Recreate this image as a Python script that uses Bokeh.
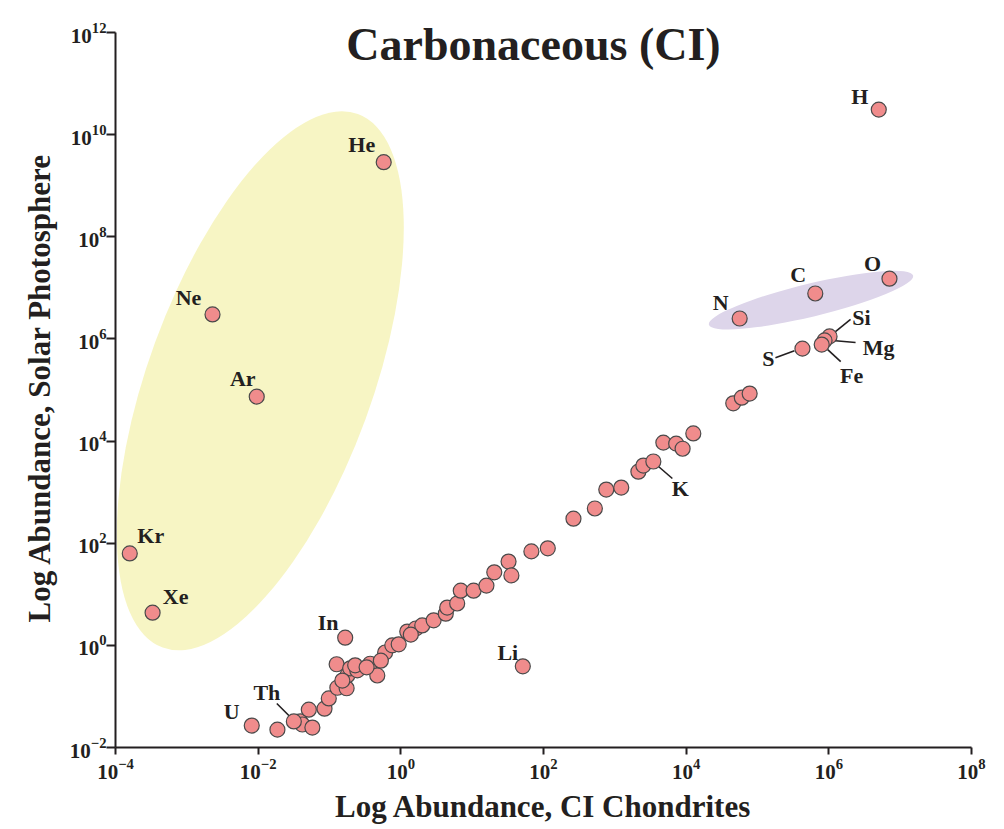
from bokeh.plotting import figure
from bokeh.models import Range1d, FixedTicker, Label, LogTickFormatter, Title
from bokeh.core.properties import value
from bokeh.embed import file_html
from bokeh.resources import INLINE

# ---- data (log10 abundances) ----
elements = ["H", "He", "Ne", "Ar", "Kr", "Xe", "In", "Li", "U", "Th",
            "N", "C", "O", "Si", "Mg", "Fe", "S", "K"]
el_log_ci = [6.70, -0.24, -2.64, -2.02, -3.80, -3.48, -0.78, 1.71, -2.09, -1.50,
             4.75, 5.81, 6.85, 6.01, 5.94, 5.90, 5.63, 3.54]
el_log_solar = [10.49, 9.46, 6.48, 4.87, 1.80, 0.64, 0.15, -0.41, -1.57, -1.49,
                6.40, 6.89, 7.18, 6.05, 5.97, 5.89, 5.81, 3.60]

trend_log_ci = [-1.73, -1.41, -1.38, -1.24, -1.29, -1.07, -1.01, -0.89, -0.76, -0.90,
                -0.75, -0.71, -0.61, -0.43, -0.33, -0.22, -0.12, -0.03, 0.09, 0.21,
                0.30, 0.46, 0.63, 0.65, 0.79, 0.84, 1.02, 1.20, 1.31, 1.51,
                1.55, 1.83, 2.06, 2.42, 2.72, 2.88, 3.09, 3.33, 3.40, 3.68,
                3.86, 3.95, 4.10, 4.66, 4.78, 4.89, -0.64, -0.48, -0.28, 0.14, -0.82]
trend_log_solar = [-1.65, -1.49, -1.55, -1.61, -1.26, -1.24, -1.04, -0.83, -0.84, -0.37,
                   -0.59, -0.45, -0.49, -0.36, -0.59, -0.14, 0.00, 0.02, 0.27, 0.33,
                   0.39, 0.49, 0.62, 0.74, 0.82, 1.07, 1.07, 1.17, 1.43, 1.64,
                   1.37, 1.84, 1.90, 2.48, 2.68, 3.05, 3.09, 3.40, 3.52, 3.97,
                   3.95, 3.85, 4.15, 4.74, 4.85, 4.93, -0.39, -0.43, -0.30, 0.21, -0.69]

x_tick_exps = [-4, -2, 0, 2, 4, 6, 8]
y_tick_exps = [-2, 0, 2, 4, 6, 8, 10, 12]

title_text = "Carbonaceous (CI)"
x_title = "Log Abundance, CI Chondrites"
y_title = "Log Abundance, Solar Photosphere"

# ---- styles / layout ----
FONT = "Liberation Serif"
INK = "#231f20"
W, H = 1000, 828
ML, MR, MB = 115, 29, 81
AXIS_TOP = 32                      # pixel row of the top y tick (frame runs above it)
FW, FH = W - ML - MR, H - MB
PPD_X = FW / (x_tick_exps[-1] - x_tick_exps[0])
PPD_Y = (FH - AXIS_TOP) / (y_tick_exps[-1] - y_tick_exps[0])
Y_END = y_tick_exps[-1] + AXIS_TOP / PPD_Y

# label offsets in screen pixels (dx right, dy down) relative to the point
label_off = {"H": (-19, -13), "He": (-22, -18), "Ne": (-24, -17), "Ar": (-14, -18),
             "Kr": (21, -18), "Xe": (23, -16), "In": (-17, -15), "Li": (-15, -14),
             "U": (-20, -14), "Th": (-27, -29), "N": (-19, -16), "C": (-17, -19),
             "O": (-17, -15), "Si": (32, -19), "Mg": (54, 7), "Fe": (30, 31),
             "S": (-34, 10), "K": (27, 27)}
leader_off = {"Th": (-17, -18, -4, -5), "Si": (5, -4, 21, -17), "Mg": (8, 0, 31, 2),
              "Fe": (6, 5, 19, 17), "S": (-8, 2, -27, 9), "K": (4, 4, 19, 17)}


def shift(lx, ly, dx, dy):
    return 10 ** (lx + dx / PPD_X), 10 ** (ly - dy / PPD_Y)


p = figure(width=W, height=H, x_axis_type="log", y_axis_type="log",
           x_range=Range1d(10.0 ** x_tick_exps[0], 10.0 ** x_tick_exps[-1]),
           y_range=Range1d(10.0 ** y_tick_exps[0], 10.0 ** Y_END),
           output_backend="svg", toolbar_location=None,
           x_axis_label=x_title,
           min_border_left=ML, min_border_right=MR, min_border_top=0, min_border_bottom=MB)
p.background_fill_color = "white"
p.border_fill_color = "white"
p.outline_line_color = None
p.grid.visible = False

for ax, exps, tick_out in ((p.xaxis, x_tick_exps, 7), (p.yaxis, y_tick_exps, 9)):
    ax.ticker = FixedTicker(ticks=[10.0 ** e for e in exps])
    ax.formatter = LogTickFormatter()
    ax.bounds = (10.0 ** exps[0], 10.0 ** exps[-1])
    ax.axis_line_width = 2
    ax.axis_line_color = INK
    ax.major_tick_line_width = 2
    ax.major_tick_line_color = INK
    ax.major_tick_in = 0
    ax.major_tick_out = tick_out
    ax.minor_tick_line_color = None
    ax.major_label_text_font = FONT
    ax.major_label_text_font_style = "bold"
    ax.major_label_text_font_size = "21px"
    ax.major_label_text_color = INK
    ax.axis_label_text_font = FONT
    ax.axis_label_text_font_style = "bold"
    ax.axis_label_text_font_size = "31px"
    ax.axis_label_text_color = INK
p.xaxis.major_label_standoff = 4
p.xaxis.axis_label_standoff = 7
p.yaxis.major_label_standoff = 0

# y axis title as a side title, started a fixed distance above the frame bottom
p.add_layout(Title(text=y_title, align="left", offset=125, standoff=19,
                   text_font=FONT, text_font_style="bold", text_font_size="31px",
                   text_color=INK), "left")

# ellipses (screen-sized, centred in data space)
p.ellipse(x=[10 ** -1.97], y=[10 ** 5.18], width=568, height=224, angle=1.22,
          width_units="screen", height_units="screen",
          fill_color="#F7F5C4", line_color=None)
p.ellipse(x=[10 ** 5.75], y=[10 ** 6.76], width=210, height=33, angle=0.236,
          width_units="screen", height_units="screen",
          fill_color="#DDD5EA", line_color=None)

# leader lines
x0s, y0s, x1s, y1s = [], [], [], []
for name, (a, b, c, d) in leader_off.items():
    i = elements.index(name)
    xa, ya = shift(el_log_ci[i], el_log_solar[i], a, b)
    xb, yb = shift(el_log_ci[i], el_log_solar[i], c, d)
    x0s.append(xa); y0s.append(ya); x1s.append(xb); y1s.append(yb)
p.segment(x0=x0s, y0=y0s, x1=x1s, y1=y1s, line_color=INK, line_width=1.6)

# points
all_x = [10 ** v for v in trend_log_ci] + [10 ** v for v in el_log_ci]
all_y = [10 ** v for v in trend_log_solar] + [10 ** v for v in el_log_solar]
p.scatter(x=all_x, y=all_y, size=15, fill_color="#F08C8C", line_color="#4a4a4a",
          line_width=1.2)

# element labels
lab_x, lab_y = [], []
for i, name in enumerate(elements):
    dx, dy = label_off[name]
    lx, ly = shift(el_log_ci[i], el_log_solar[i], dx, dy)
    lab_x.append(lx); lab_y.append(ly)
p.text(x=lab_x, y=lab_y, text=elements, text_align="center", text_baseline="middle",
       text_font=value(FONT), text_font_style="bold", text_font_size="22px",
       text_color=INK)

# title inside the plot area
p.add_layout(Label(x=10.0 ** 2, y=10.0 ** y_tick_exps[-1], text=title_text, text_align="center",
                   text_baseline="alphabetic", x_offset=-10, y_offset=-12,
                   text_font=FONT, text_font_style="bold", text_font_size="46px",
                   text_color=INK))

open("out.html", "w").write(file_html(p, INLINE))
